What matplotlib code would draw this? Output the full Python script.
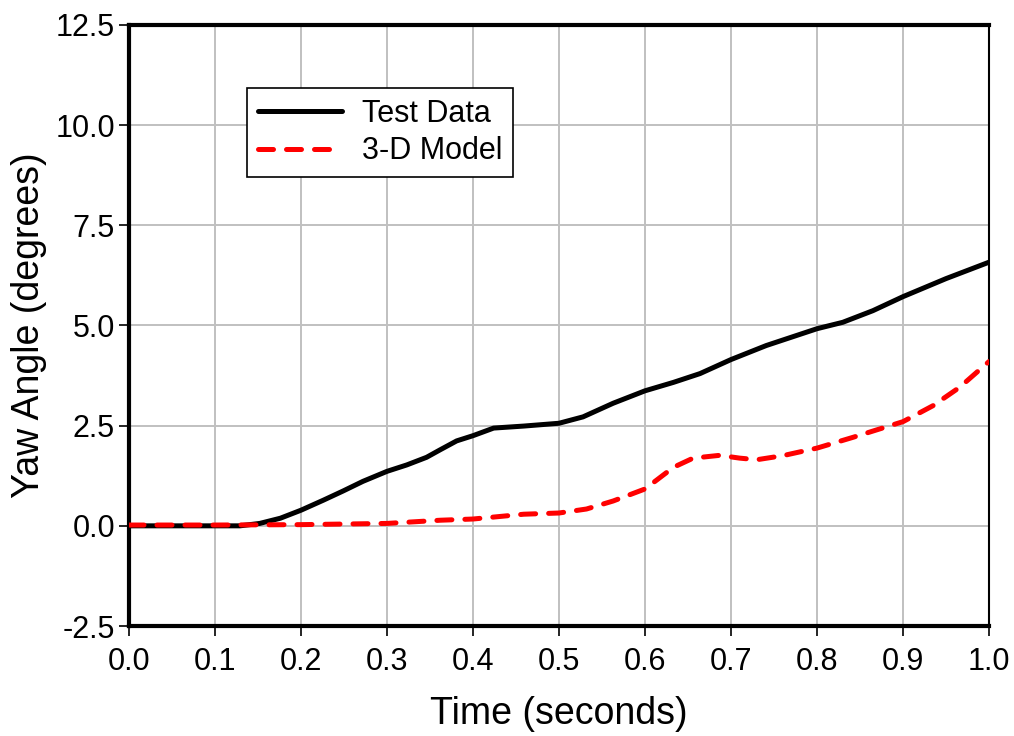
import matplotlib.pyplot as plt

plt.rcParams['font.family'] = ['Liberation Sans', 'DejaVu Sans']

# Test data (black solid)
t_test = [0.0, 0.05, 0.10, 0.129, 0.152, 0.176, 0.20, 0.226, 0.249, 0.272,
          0.30, 0.323, 0.346, 0.362, 0.381, 0.40, 0.424, 0.459, 0.50, 0.528,
          0.563, 0.60, 0.633, 0.664, 0.70, 0.741, 0.80, 0.83, 0.865, 0.90,
          0.95, 1.0]
yaw_test = [0.0, 0.0, 0.0, 0.0, 0.06, 0.19, 0.39, 0.64, 0.87, 1.11,
            1.36, 1.52, 1.71, 1.90, 2.12, 2.25, 2.44, 2.49, 2.56, 2.72,
            3.06, 3.37, 3.58, 3.80, 4.15, 4.50, 4.92, 5.08, 5.37, 5.72,
            6.17, 6.58]

# 3-D model (red dashed)
t_model = [0.0, 0.1, 0.2, 0.3, 0.362, 0.40, 0.459, 0.50, 0.532, 0.563,
           0.60, 0.633, 0.656, 0.687, 0.71, 0.73, 0.76, 0.80, 0.842, 0.885,
           0.90, 0.935, 0.966, 1.0]
yaw_model = [0.02, 0.02, 0.03, 0.06, 0.14, 0.17, 0.29, 0.32, 0.42, 0.62,
             0.92, 1.46, 1.69, 1.76, 1.69, 1.65, 1.75, 1.94, 2.21, 2.50,
             2.60, 3.0, 3.46, 4.10]

x_ticks = [0.0, 0.1, 0.2, 0.3, 0.4, 0.5, 0.6, 0.7, 0.8, 0.9, 1.0]
y_ticks = [-2.5, 0.0, 2.5, 5.0, 7.5, 10.0, 12.5]

fig = plt.figure(figsize=(10.14, 7.36), dpi=100)
ax = fig.add_axes([129 / 1014, 1 - 626 / 736, 860 / 1014, 601 / 736])

ax.plot(t_test, yaw_test, color='black', lw=3.6, label='Test Data',
        solid_capstyle='round', solid_joinstyle='round', zorder=3)
ax.plot(t_model, yaw_model, color='red', lw=3.6, label='3-D Model',
        dashes=(3.0, 2.6), dash_capstyle='round', dash_joinstyle='round',
        zorder=4)

ax.set_xlim(0, 1)
ax.set_ylim(-2.5, 12.5)
ax.set_xticks(x_ticks)
ax.set_yticks(y_ticks)
ax.set_xticklabels([f'{v:.1f}' for v in x_ticks])
ax.set_yticklabels([f'{v:.1f}' for v in y_ticks])
ax.tick_params(labelsize=22, direction='out', length=7, width=1.2)
ax.tick_params(axis='x', pad=8)
ax.tick_params(axis='y', pad=3)
ax.grid(True, color='#c0c0c0', lw=1.4)
ax.set_axisbelow(True)

for side in ['left', 'bottom', 'top']:
    ax.spines[side].set_linewidth(3)
ax.spines['right'].set_linewidth(1.5)

ax.set_xlabel('Time (seconds)', fontsize=27, labelpad=14)
ax.set_ylabel('Yaw Angle (degrees)', fontsize=27, labelpad=6)

leg = ax.legend(loc='upper left', bbox_to_anchor=(247 / 1014, 1 - 88 / 736),
                bbox_transform=fig.transFigure, fontsize=22, fancybox=False,
                framealpha=1, edgecolor='black', handlelength=2.75,
                handletextpad=0.65, labelspacing=0.25, borderpad=0.35,
                borderaxespad=0)
leg.get_frame().set_linewidth(1.2)

fig.savefig('out.png', dpi=100)
